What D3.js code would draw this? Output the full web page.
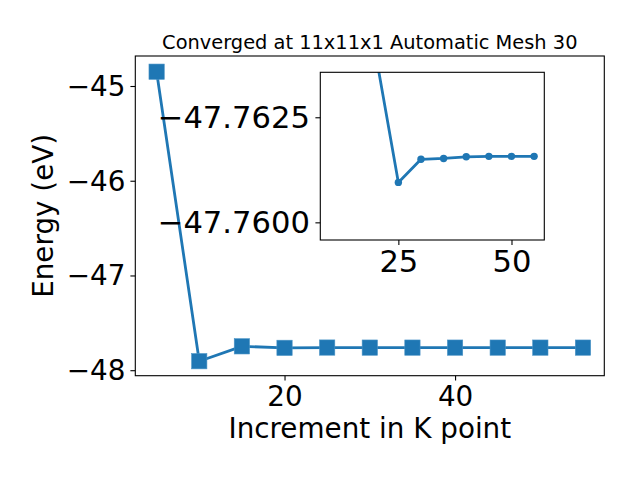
<!DOCTYPE html>
<html>
<head>
<meta charset="utf-8">
<script src="https://cdn.jsdelivr.net/npm/d3@7"></script>
<style>
  html, body { margin: 0; padding: 0; background: #fff; }
  svg { display: block; font-family: "DejaVu Sans", sans-serif; }
</style>
</head>
<body>
<svg id="chart" width="640" height="480"></svg>
<script>
// ---- data ----
const kPoints = [5, 10, 15, 20, 25, 30, 35, 40, 45, 50, 55];
const energies = [-44.849, -47.905, -47.748, -47.7640, -47.76095, -47.7615, -47.76152, -47.76156, -47.76157, -47.76157, -47.76157];
const mainXTicks = [20, 40];
const mainYTicks = [-45, -46, -47, -48];
const insetXTicks = [25, 50];
const insetYTicks = [-47.7625, -47.7600];
const insetStartK = 20;
const titleText = "Converged at 11x11x1 Automatic Mesh 30";
const xLabelText = "Increment in K point";
const yLabelText = "Energy (eV)";

const color = "#1f77b4";
const svg = d3.select("#chart");
const minus = s => s.replace("-", "\u2212");
const mainTickFont = 27.8;
const insetTickFont = 30.6;

// ---- main axes ----
const M = { left: 135.3, right: 604.3, top: 56, bottom: 375.7 };
const x = d3.scaleLinear().domain([2.5, 57.5]).range([M.left, M.right]);
const y = d3.scaleLinear().domain([-48.058, -44.6833]).range([M.bottom, M.top]);
const pts = kPoints.map((k, i) => ({ k, e: energies[i] }));

const xAxis = svg.append("g").attr("transform", `translate(0,${M.bottom})`)
  .call(d3.axisBottom(x).tickValues(mainXTicks).tickSize(4.9).tickPadding(4.9).tickSizeOuter(0)
    .tickFormat(d => minus(d3.format("d")(d))));
const yAxis = svg.append("g").attr("transform", `translate(${M.left},0)`)
  .call(d3.axisLeft(y).tickValues(mainYTicks).tickSize(4.9).tickPadding(4.9).tickSizeOuter(0)
    .tickFormat(d => minus(d3.format("d")(d))));
[xAxis, yAxis].forEach(g => {
  g.select(".domain").remove();
  g.selectAll(".tick line").attr("stroke", "#000").attr("stroke-width", 1.1);
  g.selectAll("text").attr("font-size", mainTickFont).attr("fill", "#000").attr("font-family", "DejaVu Sans");
});
xAxis.selectAll("text").attr("dy", "0.745em");
yAxis.selectAll("text").attr("dy", "0.34em");

svg.append("path")
  .datum(pts)
  .attr("fill", "none").attr("stroke", color).attr("stroke-width", 2.8)
  .attr("stroke-linejoin", "round")
  .attr("d", d3.line().x(d => x(d.k)).y(d => y(d.e)));
const sq = 15.3;
svg.append("g").selectAll("rect").data(pts).join("rect")
  .attr("x", d => x(d.k) - sq / 2).attr("y", d => y(d.e) - sq / 2)
  .attr("width", sq).attr("height", sq)
  .attr("fill", color).attr("stroke", "#4a93c6").attr("stroke-width", 0.6);

svg.append("rect")
  .attr("x", M.left).attr("y", M.top)
  .attr("width", M.right - M.left).attr("height", M.bottom - M.top)
  .attr("fill", "none").attr("stroke", "#000").attr("stroke-width", 1.1);

svg.append("text").attr("x", (M.left + M.right) / 2).attr("y", 48.5)
  .attr("text-anchor", "middle").attr("font-size", 19.4).text(titleText);
svg.append("text").attr("x", (M.left + M.right) / 2).attr("y", 438.3)
  .attr("text-anchor", "middle").attr("font-size", 27.8).text(xLabelText);
svg.append("text").attr("transform", `translate(53,${(M.top + M.bottom) / 2}) rotate(-90)`)
  .attr("text-anchor", "middle").attr("font-size", 27.8).text(yLabelText);

// ---- inset axes ----
const I = { left: 320.3, right: 544.3, top: 72.3, bottom: 240 };
const xi = d3.scaleLinear().domain([7.75, 57.25]).range([I.left, I.right]);
const yi = d3.scaleLinear().domain([-47.75958, -47.76357]).range([I.bottom, I.top]);
const insetPts = pts.filter(d => d.k >= insetStartK);

svg.append("rect")
  .attr("x", I.left).attr("y", I.top)
  .attr("width", I.right - I.left).attr("height", I.bottom - I.top)
  .attr("fill", "#fff");

svg.append("clipPath").attr("id", "insetClip").append("rect")
  .attr("x", I.left).attr("y", I.top)
  .attr("width", I.right - I.left).attr("height", I.bottom - I.top);

const xiAxis = svg.append("g").attr("transform", `translate(0,${I.bottom})`)
  .call(d3.axisBottom(xi).tickValues(insetXTicks).tickSize(4.9).tickPadding(4.9).tickSizeOuter(0)
    .tickFormat(d => d3.format("d")(d)));
const yiAxis = svg.append("g").attr("transform", `translate(${I.left},0)`)
  .call(d3.axisLeft(yi).tickValues(insetYTicks).tickSize(4.9).tickPadding(5.5).tickSizeOuter(0)
    .tickFormat(d => minus(d3.format(".4f")(d))));
[xiAxis, yiAxis].forEach(g => {
  g.select(".domain").remove();
  g.selectAll(".tick line").attr("stroke", "#000").attr("stroke-width", 1.1);
  g.selectAll("text").attr("font-size", insetTickFont).attr("fill", "#000").attr("font-family", "DejaVu Sans");
});
xiAxis.selectAll("text").attr("dy", "0.716em");
yiAxis.selectAll("text").attr("dy", "0.33em");

const ig = svg.append("g").attr("clip-path", "url(#insetClip)");
ig.append("path")
  .datum(insetPts)
  .attr("fill", "none").attr("stroke", color).attr("stroke-width", 2.8)
  .attr("stroke-linejoin", "round")
  .attr("d", d3.line().x(d => xi(d.k)).y(d => yi(d.e)));
ig.selectAll("circle").data(insetPts).join("circle")
  .attr("cx", d => xi(d.k)).attr("cy", d => yi(d.e)).attr("r", 3.7)
  .attr("fill", color);

svg.append("rect")
  .attr("x", I.left).attr("y", I.top)
  .attr("width", I.right - I.left).attr("height", I.bottom - I.top)
  .attr("fill", "none").attr("stroke", "#000").attr("stroke-width", 1.1);
</script>
</body>
</html>
